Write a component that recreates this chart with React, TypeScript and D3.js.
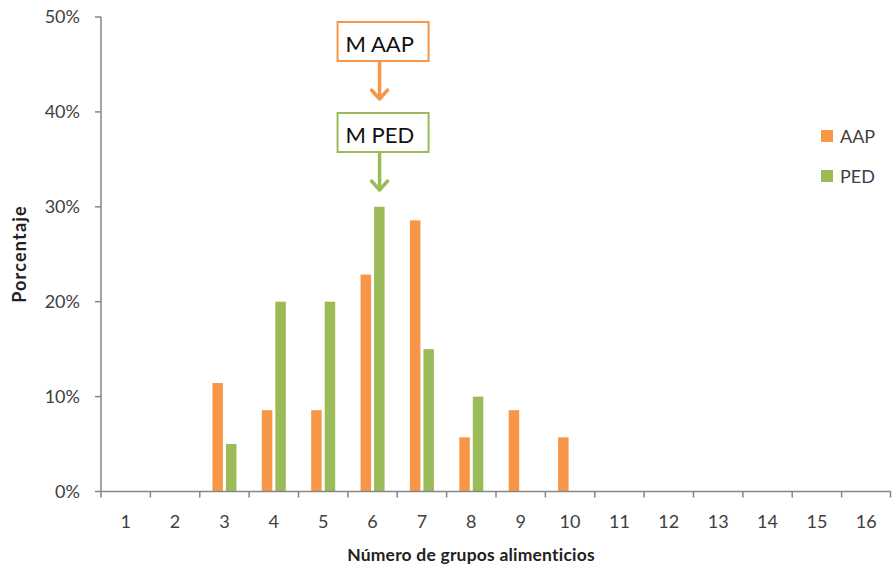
import React from "react";
import * as d3 from "d3";

const categories = ["1","2","3","4","5","6","7","8","9","10","11","12","13","14","15","16"];
const aapValues = [0,0,11.43,8.57,8.57,22.86,28.57,5.71,8.57,5.71,0,0,0,0,0,0];
const pedValues = [0,0,5,20,20,30,15,10,0,0,0,0,0,0,0,0];
const yTicks = [0,10,20,30,40,50];
const seriesNames = ["AAP","PED"];
const seriesColors = ["#F79646","#9BBB59"];
const annotations = [
  { label: "M AAP", color: "#F79646", cat: "6" },
  { label: "M PED", color: "#9BBB59", cat: "6" },
];

const W = 892, H = 569;
const left = 101, right = 891, top = 17, bottom = 491.5;
const FONT = "Lato, 'Open Sans', sans-serif";

export default function App() {
  const x = d3.scaleBand<string>().domain(categories).range([left, right]).paddingInner(0).paddingOuter(0);
  const y = d3.scaleLinear().domain([0, 50]).range([bottom, top]);
  const bw = 10.5, gap = 3;
  const series = [aapValues, pedValues];
  const axisColor = "#868686";

  const annX = (x("6") as number) + x.bandwidth() / 2 + 7;
  const boxW = 91, boxH = 39;
  const boxes = [
    { ...annotations[0], y0: 22, arrowEnd: 100 },
    { ...annotations[1], y0: 113, arrowEnd: 191 },
  ];

  return (
    <svg width={W} height={H} style={{ position: "absolute", left: 0, top: 0, background: "#fff" }}>
      {/* bars */}
      {series.map((vals, si) =>
        vals.map((v, i) => {
          if (v <= 0) return null;
          const cx = (x(categories[i]) as number) + x.bandwidth() / 2;
          const bx = si === 0 ? cx - gap / 2 - bw : cx + gap / 2;
          return (
            <rect key={`${si}-${i}`} x={bx} y={y(v)} width={bw} height={bottom - y(v)} fill={seriesColors[si]} />
          );
        })
      )}
      {/* y axis */}
      <line x1={left} x2={left} y1={top} y2={bottom} stroke={axisColor} strokeWidth={1.5} />
      {yTicks.map((t) => (
        <g key={t}>
          <line x1={left - 6} x2={left} y1={y(t)} y2={y(t)} stroke={axisColor} strokeWidth={1.5} />
          <text x={left - 21} y={y(t)} dy="0.35em" textAnchor="end" fontFamily={FONT} fontSize={18} fill="#404040">
            {t}%
          </text>
        </g>
      ))}
      {/* x axis */}
      <line x1={left} x2={right} y1={bottom} y2={bottom} stroke={axisColor} strokeWidth={1.5} />
      {categories.map((c) => (
        <line key={"t" + c} x1={(x(c) as number)} x2={(x(c) as number)} y1={bottom} y2={bottom + 6} stroke={axisColor} strokeWidth={1.5} />
      ))}
      <line x1={right - 0.5} x2={right - 0.5} y1={bottom} y2={bottom + 6} stroke={axisColor} strokeWidth={1.5} />
      {categories.map((c) => (
        <text key={"l" + c} x={(x(c) as number) + x.bandwidth() / 2} y={528} textAnchor="middle" fontFamily={FONT} fontSize={18} fill="#404040">
          {c}
        </text>
      ))}
      {/* axis titles */}
      <text x={471} y={561} textAnchor="middle" fontFamily={FONT} fontWeight="bold" fontSize={17.5} letterSpacing={0.2} fill="#222">
        Número de grupos alimenticios
      </text>
      <text transform={`translate(26,254) rotate(-90)`} textAnchor="middle" fontFamily={FONT} fontWeight="bold" fontSize={18} letterSpacing={1.2} fill="#222">
        Porcentaje
      </text>
      {/* legend */}
      {seriesNames.map((n, i) => (
        <g key={n}>
          <rect x={821} y={130 + i * 40} width={12} height={12} fill={seriesColors[i]} />
          <text x={840} y={143 + i * 40} fontFamily={FONT} fontSize={18} fill="#404040">{n}</text>
        </g>
      ))}
      {/* annotations */}
      {boxes.map((b) => (
        <g key={b.label}>
          <rect x={annX - 42} y={b.y0} width={boxW} height={boxH} fill="#fff" stroke={b.color} strokeWidth={2} />
          <text x={annX - 34} y={b.y0 + 30} fontFamily={FONT} fontSize={22} fill="#111">{b.label}</text>
          <line x1={annX} x2={annX} y1={b.y0 + boxH} y2={b.arrowEnd - 2} stroke={b.color} strokeWidth={3.5} />
          <polyline points={`${annX - 8},${b.arrowEnd - 10} ${annX},${b.arrowEnd - 1} ${annX + 8},${b.arrowEnd - 10}`} fill="none" stroke={b.color} strokeWidth={3.5} strokeLinecap="round" strokeLinejoin="round" />
        </g>
      ))}
    </svg>
  );
}
